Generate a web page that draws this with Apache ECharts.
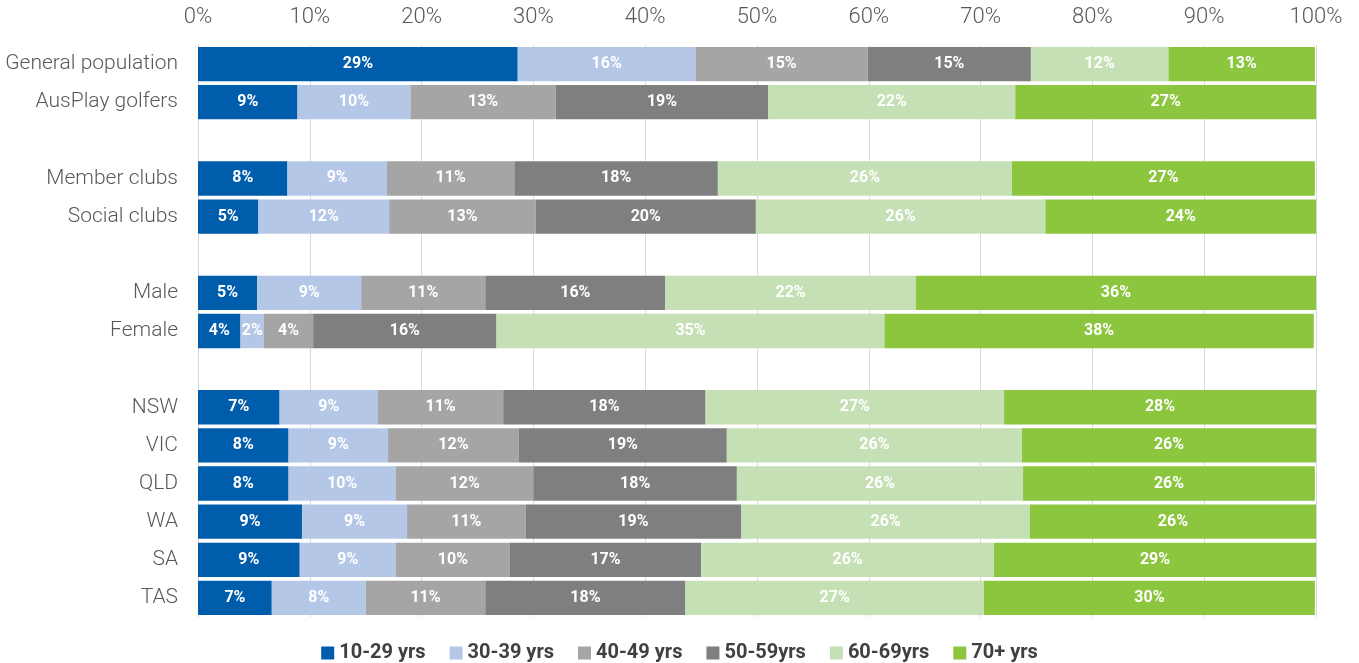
<!DOCTYPE html>
<html>
<head>
<meta charset="utf-8">
<script src="https://cdn.jsdelivr.net/npm/echarts@6/dist/echarts.min.js"></script>
<style>
  html, body { margin: 0; padding: 0; background: #fff; }
  #chart { width: 1359px; height: 663px; }
</style>
</head>
<body>
<div id="chart"></div>
<script>
const categories = ['General population', 'AusPlay golfers', ' ', 'Member clubs', 'Social clubs', '  ',
  'Male', 'Female', '   ', 'NSW', 'VIC', 'QLD', 'WA', 'SA', 'TAS'];
const seriesNames = ['10-29 yrs', '30-39 yrs', '40-49 yrs', '50-59yrs', '60-69yrs', '70+ yrs'];
const age10to29 = [28.6, 8.9, null, 8.0, 5.4, null, 5.3, 3.8, null, 7.3, 8.1, 8.1, 9.3, 9.1, 6.6];
const age30to39 = [15.9, 10.1, null, 8.9, 11.7, null, 9.3, 2.1, null, 8.8, 8.9, 9.6, 9.4, 8.6, 8.4];
const age40to49 = [15.4, 13.0, null, 11.4, 13.1, null, 11.1, 4.4, null, 11.2, 11.7, 12.3, 10.6, 10.2, 10.7];
const age50to59 = [14.6, 19.0, null, 18.2, 19.7, null, 16.1, 16.4, null, 18.1, 18.6, 18.2, 19.3, 17.1, 17.9];
const age60to69 = [12.3, 22.1, null, 26.3, 25.9, null, 22.4, 34.7, null, 26.7, 26.4, 25.6, 25.8, 26.2, 26.7];
const age70plus = [13.1, 26.9, null, 27.1, 24.2, null, 35.8, 38.4, null, 28.0, 26.4, 26.1, 25.6, 28.8, 29.6];
const tickValues = [0, 10, 20, 30, 40, 50, 60, 70, 80, 90, 100];

const seriesData = [age10to29, age30to39, age40to49, age50to59, age60to69, age70plus];
const colors = ['#005DAC', '#B4C7E7', '#A5A5A5', '#7F7F7F', '#C5E0B4', '#8CC63F'];

const chart = echarts.init(document.getElementById('chart'), null, { renderer: 'canvas' });
chart.setOption({
  animation: false,
  textStyle: { fontFamily: 'Roboto' },
  grid: { left: 198, right: 43, top: 45, bottom: 46, containLabel: false },
  legend: {
    bottom: -5,
    left: 'center',
    itemWidth: 13,
    itemHeight: 13,
    itemGap: 24,
    icon: 'rect',
    textStyle: { fontSize: 20, fontWeight: 'bold', color: '#404040', fontFamily: 'Roboto' },
    data: seriesNames
  },
  xAxis: {
    type: 'value',
    position: 'top',
    min: tickValues[0],
    max: tickValues[tickValues.length - 1],
    interval: 10,
    axisLine: { show: false },
    axisTick: { show: false },
    axisLabel: { formatter: '{value}%', fontSize: 22, color: '#595959', margin: 17, fontWeight: 300 },
    splitLine: { show: true, lineStyle: { color: '#D9D9D9', width: 1 } }
  },
  yAxis: {
    type: 'category',
    inverse: true,
    data: categories,
    axisLine: { show: true, lineStyle: { color: '#D9D9D9' } },
    axisTick: { show: false },
    axisLabel: { fontSize: 21, color: '#595959', margin: 20, fontWeight: 300 }
  },
  series: seriesNames.map((name, i) => ({
    name: name,
    type: 'bar',
    stack: 'total',
    barCategoryGap: '10%',
    data: seriesData[i],
    itemStyle: { color: colors[i] },
    label: {
      show: true,
      position: 'inside',
      color: '#FFFFFF',
      fontSize: 16,
      fontWeight: 'bold',
      formatter: p => (p.value == null ? '' : Math.round(p.value) + '%')
    }
  }))
});
</script>
</body>
</html>
